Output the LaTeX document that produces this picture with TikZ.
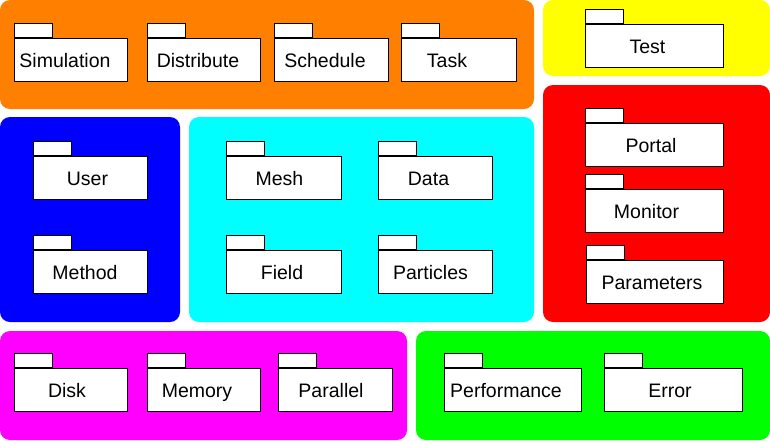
\documentclass[tikz,border=0pt]{standalone}
\usepackage{fontspec}
\setmainfont{Liberation Sans}
\definecolor{porange}{RGB}{255,128,0}
\definecolor{pyellow}{RGB}{255,255,0}
\definecolor{pred}{RGB}{255,0,0}
\definecolor{pblue}{RGB}{0,0,255}
\definecolor{pcyan}{RGB}{0,255,255}
\definecolor{pmagenta}{RGB}{255,0,255}
\definecolor{pgreen}{RGB}{0,255,0}
\tikzset{
  panel/.style={rounded corners=10pt, draw=none},
  pkgbody/.style={draw=black, fill=white, line width=1pt, inner sep=0pt, anchor=north west, minimum height=42.5pt},
  pkgtab/.style={draw=black, fill=white, line width=1pt, inner sep=0pt, anchor=south west, minimum width=38pt, minimum height=14pt},
  lbl/.style={font=\fontsize{19.5}{23}\selectfont, anchor=base, inner sep=0pt}
}
% #1 name, #2 x, #3 y, #4 width, #5 label x, #6 text
\newcommand\pkgbox[6]{%
  \node[pkgbody, minimum width=#4pt] (#1) at (#2,#3) {};
  \node[pkgtab] (#1tab) at (#1.north west) {};
  \node[lbl] (#1lbl) at (#5,#3+29) {#6};
}
\begin{document}
\begin{tikzpicture}[x=1pt, y=-1pt]
\useasboundingbox (0,0) rectangle (770,440);
% panels
\fill[panel, porange] (0,0) rectangle (534,109);
\fill[panel, pyellow] (543,0) rectangle (770,76);
\fill[panel, pred] (543,85) rectangle (770,322);
\fill[panel, pblue] (0,117) rectangle (180,322);
\fill[panel, pcyan] (189,117) rectangle (534,322);
\fill[panel, pmagenta] (0,331) rectangle (407,440);
\fill[panel, pgreen] (416,331) rectangle (770,440);
% packages
\pkgbox{simulation}{14}{38}{113}{65}{Simulation}
\pkgbox{distribute}{147}{38}{113}{198}{Distribute}
\pkgbox{schedule}{274}{38}{114}{325}{Schedule}
\pkgbox{task}{401}{38}{115}{447}{Task}
\pkgbox{test}{585}{24}{138}{647.5}{Test}
\pkgbox{user}{33}{156}{114}{87.5}{User}
\pkgbox{method}{33}{250}{114}{85}{Method}
\pkgbox{mesh}{226}{156}{115}{279.5}{Mesh}
\pkgbox{data}{378}{156}{114}{428.5}{Data}
\pkgbox{field}{226}{250}{115}{282}{Field}
\pkgbox{particles}{378}{250}{114}{430.5}{Particles}
\pkgbox{portal}{585}{123}{138}{651}{Portal}
\pkgbox{monitor}{585}{189}{138}{646.5}{Monitor}
\pkgbox{parameters}{586}{260}{137}{652}{Parameters}
\pkgbox{disk}{14}{368}{113}{67}{Disk}
\pkgbox{memory}{147}{368}{113}{197}{Memory}
\pkgbox{parallel}{278}{368}{114}{331}{Parallel}
\pkgbox{performance}{444}{368}{137}{506}{Performance}
\pkgbox{error}{604}{368}{138}{670}{Error}
\end{tikzpicture}
\end{document}
